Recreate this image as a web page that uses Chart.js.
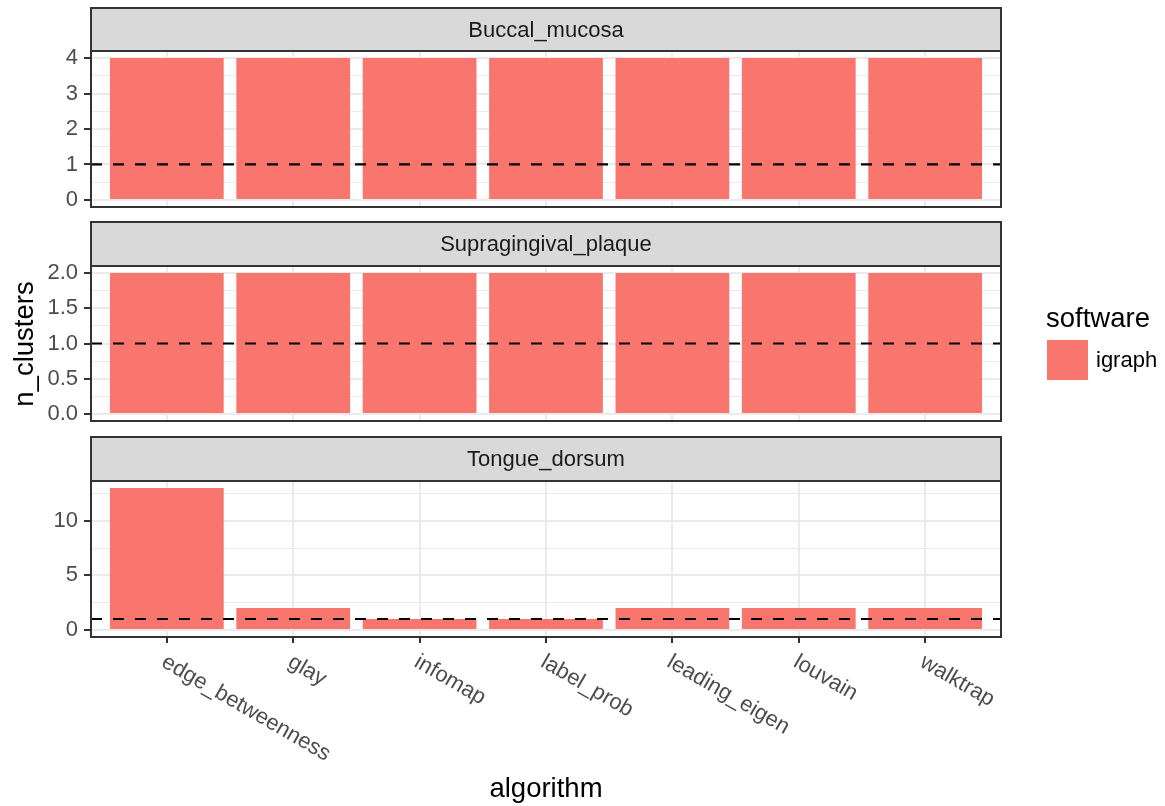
<!DOCTYPE html>
<html>
<head>
<meta charset="utf-8">
<title>n_clusters by algorithm</title>
<script src="https://cdn.jsdelivr.net/npm/chart.js@4/dist/chart.umd.min.js"></script>
<style>
  html, body { margin: 0; padding: 0; background: #ffffff; }
  #wrap { position: relative; width: 1165px; height: 806px; overflow: hidden; background: #ffffff; }
  #wrap canvas { position: absolute; left: 0; top: 0; }
</style>
</head>
<body>
<div id="wrap">
  <canvas id="panel1" width="1165" height="806"></canvas>
  <canvas id="panel2" width="1165" height="806"></canvas>
  <canvas id="panel3" width="1165" height="806"></canvas>
</div>
<script>
// ---- data ----
const algorithms = ['edge_betweenness', 'glay', 'infomap', 'label_prob', 'leading_eigen', 'louvain', 'walktrap'];
const bodySites = ['Buccal_mucosa', 'Supragingival_plaque', 'Tongue_dorsum'];
const buccalClusters = [4, 4, 4, 4, 4, 4, 4];
const supraClusters = [2, 2, 2, 2, 2, 2, 2];
const tongueClusters = [13, 2, 1, 1, 2, 2, 2];
const referenceLine = 1;
const softwareName = 'igraph';

const buccalTicks = [0, 1, 2, 3, 4];
const buccalTickLabels = ['0', '1', '2', '3', '4'];
const supraTicks = [0, 0.5, 1, 1.5, 2];
const supraTickLabels = ['0.0', '0.5', '1.0', '1.5', '2.0'];
const tongueTicks = [0, 5, 10];
const tongueTickLabels = ['0', '5', '10'];

// ---- styling ----
const FONT = "'Liberation Sans', Arial, Helvetica, sans-serif";
const BAR_COLOR = '#F8766D';
const GRID = '#ebebeb';
const FRAME = '#333333';
const W = 1165, H = 806;
const PANEL_LEFT = 91, PANEL_RIGHT = 1001;
const SMALL = 22;   // tick, strip and legend label size
const LARGE = 27.5; // axis and legend title size

// strip top, plot top, plot bottom for each facet
const layouts = [
  { stripTop: 8,   plotTop: 51,  plotBottom: 207 },
  { stripTop: 222, plotTop: 266, plotBottom: 421 },
  { stripTop: 437, plotTop: 481, plotBottom: 637 }
];

function withMinor(major, lo, hi) {
  const step = major[1] - major[0];
  const minor = [];
  for (let v = major[0] - step / 2; v <= hi; v += step) {
    if (v >= lo && v <= hi) minor.push(+v.toFixed(4));
  }
  return major.concat(minor).sort((a, b) => a - b);
}

function padRange(vals) {
  const lo = Math.min(0, ...vals), hi = Math.max(...vals);
  const pad = (hi - lo) * 0.05;
  return [lo - pad, hi + pad];
}

// facet decoration: reference line, frame, strip, and bottom labels
function makeDecor(idx, isBottom) {
  return {
    id: 'facetDecor' + idx,
    afterDatasetsDraw(chart) {
      const { ctx, chartArea: a, scales } = chart;
      const yRef = scales.y.getPixelForValue(referenceLine);
      ctx.save();
      ctx.strokeStyle = '#000000';
      ctx.lineWidth = 2.2;
      ctx.setLineDash([11, 11]);
      ctx.beginPath();
      ctx.moveTo(a.left, yRef);
      ctx.lineTo(a.right, yRef);
      ctx.stroke();
      ctx.restore();
    },
    afterDraw(chart) {
      const { ctx, chartArea: a, scales } = chart;
      const L = layouts[idx];
      ctx.save();
      // strip
      ctx.fillStyle = '#d9d9d9';
      ctx.fillRect(a.left, L.stripTop, a.right - a.left, a.top - L.stripTop);
      ctx.strokeStyle = FRAME;
      ctx.lineWidth = 2;
      ctx.strokeRect(a.left, L.stripTop, a.right - a.left, a.top - L.stripTop);
      ctx.fillStyle = '#1a1a1a';
      ctx.font = SMALL + 'px ' + FONT;
      ctx.textAlign = 'center';
      ctx.textBaseline = 'alphabetic';
      ctx.fillText(bodySites[idx], (a.left + a.right) / 2, L.stripTop + 29);
      // panel frame
      ctx.strokeRect(a.left, a.top, a.right - a.left, a.bottom - a.top);

      if (isBottom) {
        // rotated category labels
        ctx.fillStyle = '#4d4d4d';
        ctx.font = SMALL + 'px ' + FONT;
        ctx.textAlign = 'left';
        ctx.textBaseline = 'top';
        algorithms.forEach((name, i) => {
          const x = scales.x.getPixelForValue(i + 1);
          ctx.save();
          ctx.translate(x + 2, a.bottom + 14);
          ctx.rotate(Math.PI / 6);
          ctx.fillText(name, 0, 0);
          ctx.restore();
        });
        // axis titles
        ctx.fillStyle = '#000000';
        ctx.font = LARGE + 'px ' + FONT;
        ctx.textAlign = 'center';
        ctx.textBaseline = 'alphabetic';
        ctx.fillText('algorithm', (a.left + a.right) / 2, 797);
        ctx.save();
        ctx.translate(33, (layouts[0].plotTop + layouts[2].plotBottom) / 2);
        ctx.rotate(-Math.PI / 2);
        ctx.fillText('n_clusters', 0, 0);
        ctx.restore();
        // legend
        ctx.textAlign = 'left';
        ctx.fillText('software', 1046, 327);
        ctx.fillStyle = BAR_COLOR;
        ctx.fillRect(1047, 340, 41, 40);
        ctx.fillStyle = '#000000';
        ctx.font = SMALL + 'px ' + FONT;
        ctx.fillText(softwareName, 1096, 367);
      }
      ctx.restore();
    }
  };
}

function makePanel(idx, canvasId, values, majorTicks, majorLabels) {
  const L = layouts[idx];
  const isBottom = idx === layouts.length - 1;
  const [yMin, yMax] = padRange(values);
  const allTicks = withMinor(majorTicks, yMin, yMax);
  const isMajor = v => majorTicks.some(m => Math.abs(m - v) < 1e-6);
  const labelFor = v => {
    const k = majorTicks.findIndex(m => Math.abs(m - v) < 1e-6);
    return k >= 0 ? majorLabels[k] : '';
  };

  return new Chart(document.getElementById(canvasId), {
    type: 'bar',
    data: {
      datasets: [{
        label: softwareName,
        data: algorithms.map((a, i) => ({ x: i + 1, y: values[i] })),
        backgroundColor: BAR_COLOR,
        borderWidth: 0,
        barPercentage: 0.9,
        categoryPercentage: 1.0
      }]
    },
    options: {
      responsive: false,
      devicePixelRatio: 1,
      animation: false,
      events: [],
      layout: {
        padding: { left: 0, right: W - PANEL_RIGHT, top: L.plotTop, bottom: H - L.plotBottom }
      },
      plugins: { legend: { display: false }, tooltip: { enabled: false }, title: { display: false } },
      scales: {
        x: {
          type: 'linear',
          offset: false,
          min: 0.4,
          max: algorithms.length + 0.6,
          afterBuildTicks: s => { s.ticks = algorithms.map((a, i) => ({ value: i + 1 })); },
          afterFit: s => { s.height = 0; },
          ticks: { display: false },
          border: { display: false },
          grid: {
            offset: false,
            color: GRID,
            lineWidth: 2,
            drawTicks: isBottom,
            tickLength: 6,
            tickColor: FRAME,
            tickWidth: 2
          }
        },
        y: {
          type: 'linear',
          min: yMin,
          max: yMax,
          afterBuildTicks: s => { s.ticks = allTicks.map(v => ({ value: v })); },
          afterFit: s => { s.width = PANEL_LEFT; },
          border: { display: false },
          ticks: {
            autoSkip: false,
            padding: 6,
            color: '#4d4d4d',
            font: { family: FONT, size: SMALL },
            callback: v => labelFor(v)
          },
          grid: {
            color: GRID,
            lineWidth: c => (c.tick && isMajor(c.tick.value)) ? 2 : 1,
            tickLength: 7,
            tickColor: c => (c.tick && isMajor(c.tick.value)) ? FRAME : 'rgba(0,0,0,0)',
            tickWidth: 2
          }
        }
      }
    },
    plugins: [makeDecor(idx, isBottom)]
  });
}

makePanel(0, 'panel1', buccalClusters, buccalTicks, buccalTickLabels);
makePanel(1, 'panel2', supraClusters, supraTicks, supraTickLabels);
makePanel(2, 'panel3', tongueClusters, tongueTicks, tongueTickLabels);
</script>
</body>
</html>
